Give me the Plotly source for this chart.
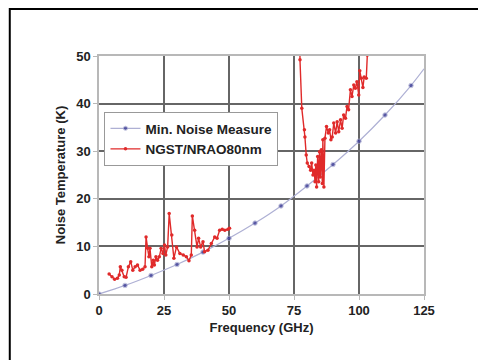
import plotly.graph_objects as go

# Min. Noise Measure
min_freq = [0, 10, 20, 30, 40, 50, 60, 70, 80, 90, 100, 110, 120, 125]
min_temp = [0, 1.8, 3.9, 6.2, 8.8, 11.7, 14.9, 18.5, 22.7, 27.2, 32.1, 37.6, 43.8, 47.3]

# NGST/NRAO80nm measured data (two sweeps, gap between)
ngst_freq_a = [3.9, 5.0, 6.0, 7.1, 7.8, 8.2, 8.8, 9.7, 10.4, 11.3, 12.2, 13.0, 13.9, 14.8,
               15.8, 16.8, 17.7, 18.1, 18.7, 19.2, 19.6, 20.3, 20.9, 21.3, 21.9, 22.5, 23.2,
               23.9, 24.6, 25.2, 25.7, 26.4, 27.0, 28.0, 28.8, 29.8, 31.1, 32.4, 33.6, 34.6,
               35.5, 35.9, 36.8, 37.7, 38.3, 39.1, 40.0, 40.6, 41.9, 43.2, 44.5, 45.4, 46.4,
               47.4, 48.4, 49.6, 50.2]
ngst_temp_a = [4.2, 3.6, 3.1, 3.3, 4.0, 5.7, 5.0, 3.6, 3.5, 5.7, 6.8, 5.0, 5.7, 6.1,
               5.0, 5.2, 5.7, 12.0, 9.6, 7.8, 9.6, 5.7, 7.1, 6.1, 7.8, 7.1, 7.8,
               9.6, 8.5, 10.3, 8.2, 9.9, 16.9, 12.4, 7.5, 9.9, 8.5, 8.2, 7.8, 7.0,
               8.2, 16.4, 13.4, 9.9, 11.7, 9.9, 11.0, 8.9, 9.2, 10.6, 12.0, 11.7, 13.4,
               13.6, 13.4, 13.6, 13.8]
ngst_freq_b = [77.2, 77.3, 78.0, 79.0, 79.2, 79.7, 80.1, 80.8, 81.4, 81.8, 82.3, 82.7, 83.1,
               83.4, 83.7, 84.1, 84.5, 84.8, 85.1, 85.5, 85.9, 86.1, 86.5, 86.9, 87.5, 88.2,
               88.7, 89.2, 89.7, 90.3, 91.0, 91.6, 92.2, 92.9, 93.5, 94.1, 94.8, 95.4, 96.0,
               96.7, 97.3, 98.0, 98.6, 99.2, 99.9, 100.3, 100.9, 101.5, 102.0, 102.8, 103.2,
               103.4]
ngst_temp_b = [56.0, 49.2, 39.0, 34.5, 33.0, 29.2, 27.5, 26.8, 26.0, 27.5, 25.0, 26.0, 23.6,
               27.1, 22.5, 28.9, 23.6, 29.9, 24.6, 30.3, 23.2, 32.4, 22.5, 32.7, 35.2, 33.8,
               34.5, 32.4, 33.0, 35.9, 33.8, 36.2, 34.1, 36.6, 34.8, 37.6, 36.9, 39.4, 38.7,
               42.9, 41.5, 43.9, 43.2, 44.6, 41.8, 46.9, 45.3, 43.4, 45.6, 45.3, 50.2,
               56.0]

ngst_freq = ngst_freq_a + [None] + ngst_freq_b
ngst_temp = ngst_temp_a + [None] + ngst_temp_b

x_ticks = [0, 25, 50, 75, 100, 125]
y_ticks = [0, 10, 20, 30, 40, 50]

FONT = "Liberation Sans"

fig = go.Figure()
fig.add_trace(go.Scatter(
    x=min_freq, y=min_temp, name="<b>Min. Noise Measure</b>",
    mode="lines+markers", line=dict(color="#aeb0d4", width=1.2, shape="spline"),
    marker=dict(color="#2b2b8c", size=[4.5] * (len(min_freq) - 1) + [0]),
))
fig.add_trace(go.Scatter(
    x=ngst_freq, y=ngst_temp, name="<b>NGST/NRAO80nm</b>",
    mode="lines+markers", line=dict(color="#e02a2a", width=1.4),
    marker=dict(color="#e02a2a", size=3.5), connectgaps=False,
))

axis_common = dict(
    showline=True, mirror=True, linecolor="#b8b8b8", linewidth=1.5,
    showgrid=True, gridcolor="#666666", gridwidth=1.5,
    zeroline=False, ticks="outside", ticklen=4, tickcolor="#b8b8b8",
    tickfont=dict(family=FONT, size=13, color="#222"), automargin=False,
)
fig.update_xaxes(range=[0, 125], tickvals=x_ticks,
                 title=dict(text="<b>Frequency (GHz)</b>", font=dict(family=FONT, size=13, color="#222"), standoff=6),
                 **axis_common)
fig.update_yaxes(range=[0, 50], tickvals=y_ticks,
                 title=dict(text="<b>Noise Temperature (K)</b>", font=dict(family=FONT, size=13, color="#222"), standoff=8),
                 **axis_common)
fig.update_xaxes(ticktext=[f"<b>{v}</b>" for v in x_ticks])
fig.update_yaxes(ticktext=[f"<b>{v}</b>" for v in y_ticks])

# page body adds an 8px offset; figure coords = viewport coords - 8
OFF = 8
W, H = 486 - OFF, 360 - OFF
L, T = 98.5 - OFF, 56 - OFF
R = W - (424.5 - OFF)
B = H - (294 - OFF)
pw, ph = W - L - R, H - T - B

def px2paper_x(px):
    return (px - OFF - L) / pw

def px2paper_y(py):
    return (H - B - (py - OFF)) / ph

fig.add_shape(type="rect", xref="paper", yref="paper",
              x0=px2paper_x(9), x1=px2paper_x(484.5), y0=px2paper_y(380), y1=px2paper_y(9),
              line=dict(color="black", width=2), fillcolor="rgba(0,0,0,0)", layer="above")

fig.update_layout(
    width=W, height=H, margin=dict(l=L, r=R, t=T, b=B, autoexpand=False),
    paper_bgcolor="white", plot_bgcolor="white",
    font=dict(family=FONT, size=13, color="#222"),
    legend=dict(x=px2paper_x(104), y=px2paper_y(112), xanchor="left", yanchor="top",
                bgcolor="white", bordercolor="#999", borderwidth=1,
                font=dict(family=FONT, size=13.5, color="#222"),
                tracegroupgap=0, itemwidth=30),
    showlegend=True,
)

fig.write_html("out.html")
